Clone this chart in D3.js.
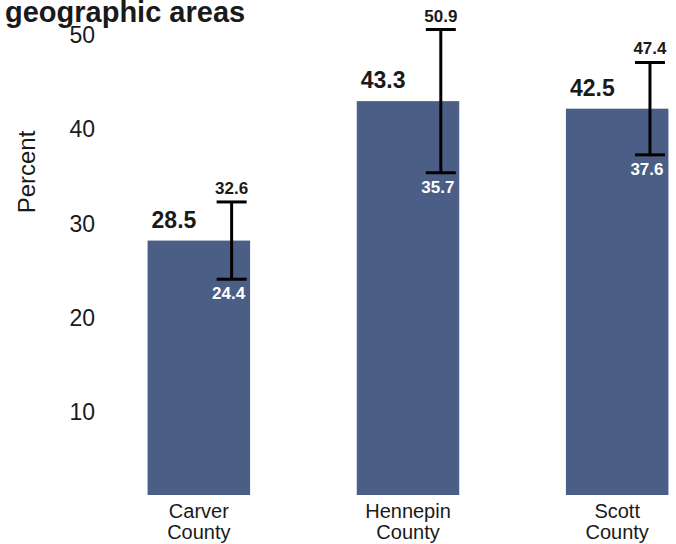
<!DOCTYPE html>
<html>
<head>
<meta charset="utf-8">
<style>
  body { margin: 0; background: #fff; }
  svg { display: block; }
  text { font-family: Arial, "Liberation Sans", Helvetica, sans-serif; fill: #1a1a1a; }
</style>
</head>
<body>
<div id="chart"></div>
<script src="https://cdn.jsdelivr.net/npm/d3@7"></script>
<script>
'use strict';

var width = 676,
    height = 544;

// data
var counties = ['Carver County', 'Hennepin County', 'Scott County'];
var percent  = [28.5, 43.3, 42.5];
var lower    = [24.4, 35.7, 37.6];
var upper    = [32.6, 50.9, 47.4];
var yTicks   = [10, 20, 30, 40, 50];

var rows = counties.map(function (c, i) {
  return { name: c, value: percent[i], lo: lower[i], hi: upper[i] };
});

var svg = d3.select('#chart').append('svg')
    .attr('width', width)
    .attr('height', height);

var x = d3.scaleBand()
    .domain(counties)
    .range([43, 773])
    .paddingInner(0.51)
    .paddingOuter(0.5);

var y = d3.scaleLinear()
    .domain([1.5, 50])
    .range([495, 38]);

// title (top is cut off in the original)
svg.append('text')
    .attr('x', 5)
    .attr('y', 22)
    .style('font-size', '29px')
    .style('font-weight', 'bold')
    .text('geographic areas');

// y axis, labels only
var yAxis = svg.append('g')
    .attr('transform', 'translate(95,0)')
    .call(d3.axisLeft(y).tickValues(yTicks).tickSize(0).tickPadding(0));
yAxis.select('.domain').remove();
yAxis.selectAll('text')
    .attr('dy', '0.2em')
    .style('font-size', '23px')
    .style('font-family', 'Arial, "Liberation Sans", sans-serif')
    .attr('fill', '#1a1a1a');

svg.append('text')
    .attr('transform', 'translate(35,172) rotate(-90)')
    .attr('text-anchor', 'middle')
    .style('font-size', '24px')
    .text('Percent');

// bars
svg.selectAll('rect.bar')
    .data(rows)
  .enter().append('rect')
    .attr('class', 'bar')
    .attr('x', function (d) { return x(d.name); })
    .attr('y', function (d) { return y(d.value); })
    .attr('width', x.bandwidth())
    .attr('height', function (d) { return y(1.5) - y(d.value); })
    .attr('fill', '#4a5e86');

// value labels
svg.selectAll('text.val')
    .data(rows)
  .enter().append('text')
    .attr('class', 'val')
    .attr('x', function (d) { return x(d.name) + 4; })
    .attr('y', function (d) { return y(d.value) - 13; })
    .style('font-size', '23px')
    .style('font-weight', 'bold')
    .text(function (d) { return d.value.toFixed(1); });

// error bars
var ex = function (d) { return x(d.name) + x.bandwidth() * 0.82; };
var cap = 15;

var err = svg.selectAll('g.err')
    .data(rows)
  .enter().append('g')
    .attr('class', 'err');

err.append('line')
    .attr('x1', ex).attr('x2', ex)
    .attr('y1', function (d) { return y(d.hi); })
    .attr('y2', function (d) { return y(d.lo); })
    .attr('stroke', '#000').attr('stroke-width', 3);

err.append('line')
    .attr('x1', function (d) { return ex(d) - cap; })
    .attr('x2', function (d) { return ex(d) + cap; })
    .attr('y1', function (d) { return y(d.hi); })
    .attr('y2', function (d) { return y(d.hi); })
    .attr('stroke', '#000').attr('stroke-width', 3);

err.append('line')
    .attr('x1', function (d) { return ex(d) - cap; })
    .attr('x2', function (d) { return ex(d) + cap; })
    .attr('y1', function (d) { return y(d.lo); })
    .attr('y2', function (d) { return y(d.lo); })
    .attr('stroke', '#000').attr('stroke-width', 3);

err.append('text')
    .attr('x', ex)
    .attr('y', function (d) { return y(d.hi) - 8; })
    .attr('text-anchor', 'middle')
    .style('font-size', '17px')
    .style('font-weight', 'bold')
    .text(function (d) { return d.hi.toFixed(1); });

err.append('text')
    .attr('x', function (d) { return ex(d) - 3; })
    .attr('y', function (d) { return y(d.lo) + 20; })
    .attr('text-anchor', 'middle')
    .style('font-size', '17px')
    .style('font-weight', 'bold')
    .style('fill', '#fff')
    .text(function (d) { return d.lo.toFixed(1); });

// category labels, two lines
var xl = svg.selectAll('text.cat')
    .data(rows)
  .enter().append('text')
    .attr('class', 'cat')
    .attr('text-anchor', 'middle')
    .style('font-size', '20px');

xl.each(function (d) {
  var parts = d.name.split(' ');
  var t = d3.select(this);
  parts.forEach(function (p, i) {
    t.append('tspan')
      .attr('x', x(d.name) + x.bandwidth() / 2)
      .attr('y', 518 + i * 21)
      .text(p);
  });
});
</script>
</body>
</html>
